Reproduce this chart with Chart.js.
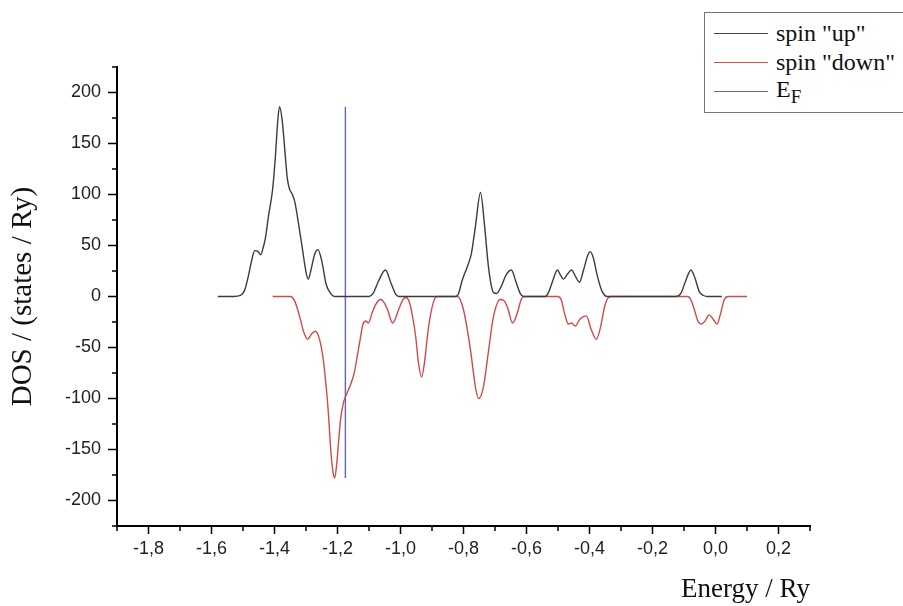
<!DOCTYPE html>
<html>
<head>
<meta charset="utf-8">
<script src="https://cdn.jsdelivr.net/npm/chart.js@4.4.0/dist/chart.umd.min.js"></script>
<style>
  html, body { margin:0; padding:0; background:#fff; overflow:hidden; }
  #wrap { position:relative; width:903px; height:606px; }
  #legend { position:absolute; left:704px; top:12px; width:240px; height:99px; border:1px solid #777; background:#fff;
            font-family:"Liberation Serif", "Times New Roman", serif; font-size:24px; color:#111; }
  .row { position:absolute; left:0; height:29px; }
  .sw { position:absolute; left:9px; width:54px; height:0; border-top:1.2px solid #333; }
  .lbl { position:absolute; left:71px; white-space:nowrap; line-height:24px; }
</style>
</head>
<body>
<div id="wrap">
  <canvas id="c" width="903" height="606"></canvas>
  <div id="legend">
    <div class="row" style="top:8px"><div class="sw" style="top:12px;border-color:#444"></div><div class="lbl" style="top:0">spin "up"</div></div>
    <div class="row" style="top:37px"><div class="sw" style="top:12px;border-color:#d05050"></div><div class="lbl" style="top:0">spin "down"</div></div>
    <div class="row" style="top:66px"><div class="sw" style="top:12px;border-color:#6464c0"></div><div class="lbl" style="top:-2px">E<sub style="font-size:19px;vertical-align:-6px">F</sub></div></div>
  </div>
</div>
<script>
// ---- data ----
const upE   = [-1.58,-1.53,-1.508,-1.495,-1.483,-1.472,-1.463,-1.452,-1.444,-1.435,-1.429,-1.419,-1.406,-1.397,-1.39,-1.384,-1.375,-1.365,-1.359,-1.352,-1.343,-1.335,-1.323,-1.311,-1.30,-1.293,-1.285,-1.272,-1.262,-1.25,-1.236,-1.222,-1.21,
               -1.10,-1.087,-1.07,-1.048,-1.03,-1.015,-1.005,
               -0.83,-0.819,-0.803,-0.787,-0.775,-0.762,-0.746,-0.733,-0.72,-0.705,-0.695,-0.68,-0.665,-0.648,-0.633,-0.62,-0.61,
               -0.54,-0.53,-0.515,-0.502,-0.492,-0.483,-0.47,-0.457,-0.445,-0.432,-0.418,-0.405,-0.397,-0.388,-0.375,-0.36,-0.343,
               -0.125,-0.11,-0.095,-0.078,-0.065,-0.052,-0.038,-0.025,0.02];
const upDOS = [0,0,1,6,20,36,45,44,41,49,57,79,105,138,171,186,171,135,115,105,100,92,70,46,24,17,25,42,46,35,12,3,0,
               0,3,15,26,13,2,0,
               0,1,17,30,42,69,102,69,27,4,3,10,21,26,14,3,0,
               0,4,17,26,21,17,22,26,20,14,27,41,44,38,20,5,0,
               0,3,15,26,18,5,1,0,0];

const downE   = [-1.406,-1.349,-1.335,-1.32,-1.307,-1.295,-1.283,-1.27,-1.257,-1.246,-1.237,-1.229,-1.222,-1.214,-1.209,-1.203,-1.196,-1.19,-1.181,-1.17,-1.158,-1.147,-1.137,-1.127,-1.119,-1.11,-1.102,-1.09,-1.079,-1.063,
                 -1.05,-1.041,-1.025,-1.006,-0.994,-0.984,-0.975,-0.968,-0.952,-0.943,-0.933,-0.924,-0.911,-0.895,-0.885,
                 -0.819,-0.80,-0.778,-0.762,-0.752,-0.737,-0.72,-0.705,-0.683,-0.672,-0.66,-0.644,-0.629,-0.618,-0.61,
                 -0.50,-0.49,-0.478,-0.467,-0.457,-0.445,-0.43,-0.41,-0.395,-0.378,-0.365,-0.352,-0.34,-0.33,
                 -0.09,-0.08,-0.068,-0.056,-0.045,-0.033,-0.02,-0.008,0.005,0.015,0.028,0.04,0.10];
const downDOS = [0,0,-5,-20,-35,-42,-37,-34,-42,-60,-85,-114,-148,-173,-178,-166,-140,-120,-104,-95,-86,-75,-58,-40,-27,-24,-26,-16,-8,-3,
                 -7,-13,-26,-13,-4,-1,-3,-10,-39,-65,-79,-65,-30,-5,0,
                 0,-13,-52,-89,-100,-89,-52,-20,-3,-4,-11,-26,-16,-4,0,
                 0,-3,-18,-27,-26,-29,-22,-19,-32,-42,-30,-10,-1,0,
                 0,-2,-12,-24,-27,-24,-18,-22,-27,-18,-3,0,0];

const efE   = [-1.175, -1.175];
const efDOS = [-178, 186];

const xTicks = [-1.8,-1.6,-1.4,-1.2,-1.0,-0.8,-0.6,-0.4,-0.2,0.0,0.2];
const xMinorTicks = [-1.9,-1.7,-1.5,-1.3,-1.1,-0.9,-0.7,-0.5,-0.3,-0.1,0.1,0.3];
const yTicks = [-200,-150,-100,-50,0,50,100,150,200];
const yMinorTicks = [-225,-175,-125,-75,-25,25,75,125,175,225];

const toPts = (xs, ys) => xs.map((x, i) => ({x: x, y: ys[i]}));

const minorTickPlugin = {
  id: 'minorTicks',
  afterDraw(chart) {
    const ctx = chart.ctx;
    const xs = chart.scales.x, ys = chart.scales.y;
    ctx.save();
    ctx.strokeStyle = '#000';
    ctx.lineWidth = 1.5;
    ctx.beginPath();
    xMinorTicks.forEach(v => {
      const px = xs.getPixelForValue(v);
      ctx.moveTo(px, xs.top); ctx.lineTo(px, xs.top + 5);
    });
    yMinorTicks.forEach(v => {
      const py = ys.getPixelForValue(v);
      ctx.moveTo(ys.right, py); ctx.lineTo(ys.right - 5, py);
    });
    ctx.stroke();
    ctx.restore();
  }
};

new Chart(document.getElementById('c'), {
  type: 'scatter',
  data: {
    datasets: [
      { label: 'spin "up"', data: toPts(upE, upDOS), showLine: true, borderColor: '#3c3c3c', borderWidth: 1.4, pointRadius: 0, cubicInterpolationMode: 'monotone' },
      { label: 'spin "down"', data: toPts(downE, downDOS), showLine: true, borderColor: '#cf4a4a', borderWidth: 1.4, pointRadius: 0, cubicInterpolationMode: 'monotone' },
      { label: 'EF', data: toPts(efE, efDOS), showLine: true, borderColor: '#6464c0', borderWidth: 1.4, pointRadius: 0 }
    ]
  },
  options: {
    responsive: false,
    animation: false,
    layout: { padding: { left: 0, top: 67, right: 93, bottom: 0 } },
    plugins: { legend: { display: false }, tooltip: { enabled: false } },
    scales: {
      x: {
        type: 'linear', min: -1.9, max: 0.3,
        afterFit(s) { s.height = 80; },
        afterBuildTicks(s) { s.ticks = xTicks.map(v => ({value: v})); },
        border: { display: true, color: '#000', width: 2 },
        grid: { display: true, drawOnChartArea: false, drawTicks: true, tickLength: 8, tickColor: '#000', tickWidth: 1.5 },
        ticks: { color: '#222', padding: 4, font: { family: 'Liberation Sans', size: 18 },
                 callback: v => v.toFixed(1).replace('.', ',') },
        title: { display: true, text: 'Energy / Ry', align: 'end', color: '#111',
                 font: { family: 'Liberation Serif', size: 27 }, padding: { top: 0, bottom: 0 } }
      },
      y: {
        type: 'linear', min: -225, max: 225,
        afterFit(s) { s.width = 117; },
        afterBuildTicks(s) { s.ticks = yTicks.map(v => ({value: v})); },
        border: { display: true, color: '#000', width: 2 },
        grid: { display: true, drawOnChartArea: false, drawTicks: true, tickLength: 9, tickColor: '#000', tickWidth: 1.5 },
        ticks: { color: '#222', padding: 7, font: { family: 'Liberation Sans', size: 18 } },
        title: { display: true, text: 'DOS / (states / Ry)', color: '#111',
                 font: { family: 'Liberation Serif', size: 29 }, padding: { top: 6, bottom: 0 } }
      }
    }
  },
  plugins: [minorTickPlugin]
});
</script>
</body>
</html>
